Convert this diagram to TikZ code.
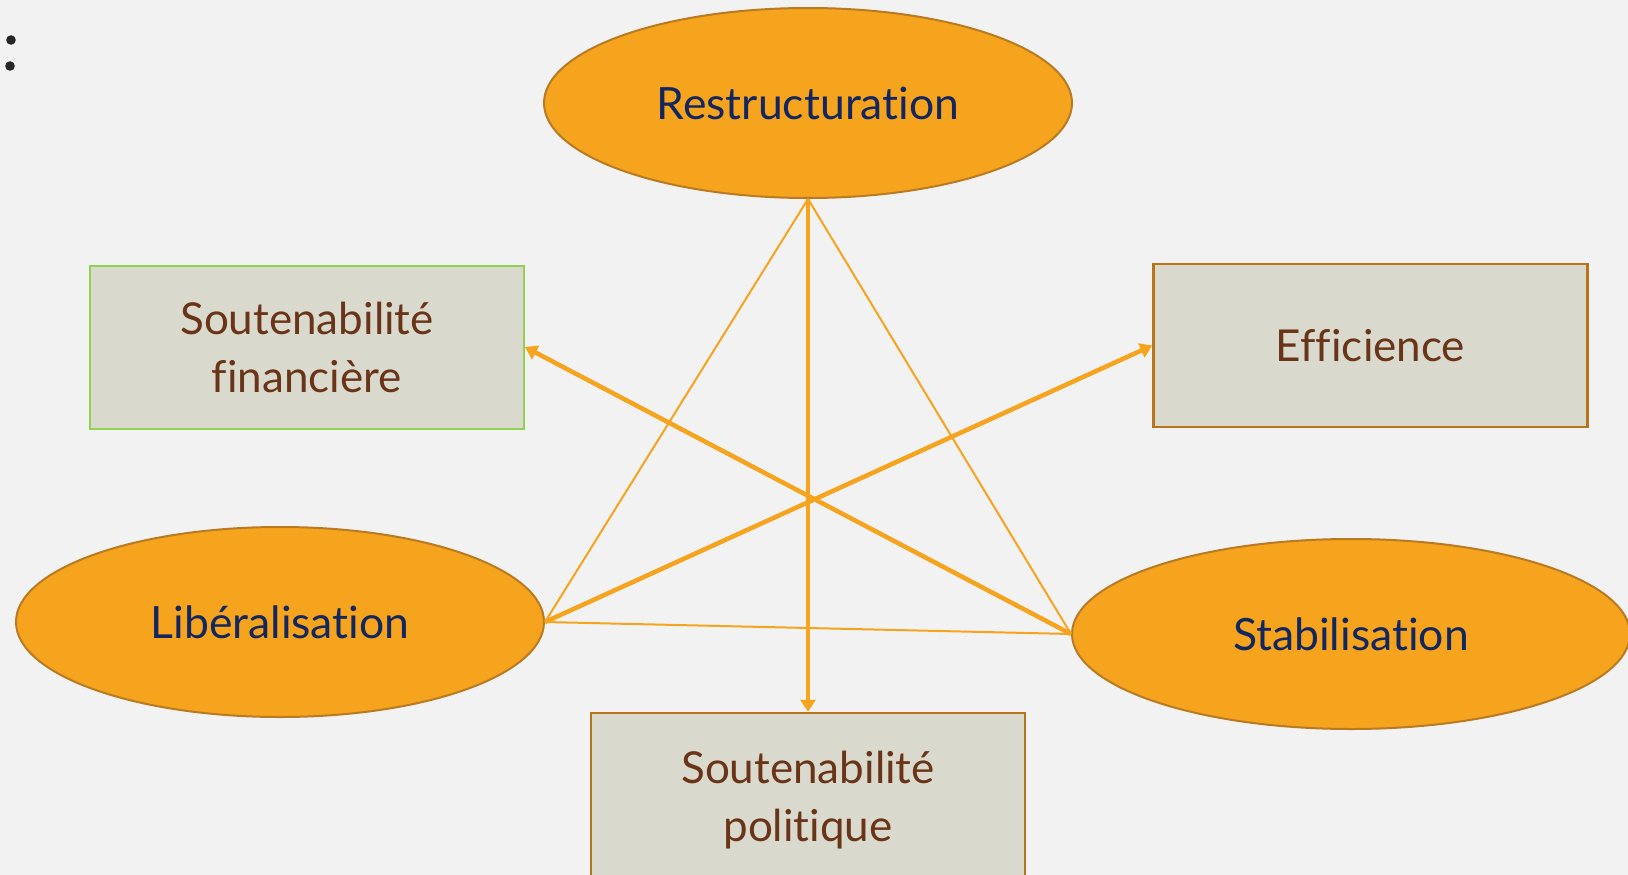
\documentclass[tikz,border=0pt]{standalone}
\usepackage{fontspec}
\setmainfont{Lato}[Ligatures={NoCommon}]
\usetikzlibrary{shapes.geometric,arrows.meta}
\definecolor{bg}{HTML}{F2F2F2}
\definecolor{orng}{HTML}{F6A31E}
\definecolor{orngdark}{HTML}{B97A21}
\definecolor{boxfill}{HTML}{D9DACD}
\definecolor{boxborder}{HTML}{B8741A}
\definecolor{greenb}{HTML}{92D050}
\definecolor{navy}{HTML}{12275F}
\definecolor{brwn}{HTML}{6A3418}
\tikzset{
  oval/.style={ellipse, fill=orng, draw=orngdark, line width=2pt, inner sep=0pt,
    minimum width=528pt, minimum height=190pt, text=navy,
    font=\fontsize{44.5}{50}\selectfont},
  rbox/.style={rectangle, fill=boxfill, draw=boxborder, line width=2.5pt, inner sep=0pt,
    minimum width=434pt, minimum height=163pt, text=brwn, align=center,
    font=\fontsize{44}{58}\selectfont},
  thin/.style={draw=orng, line width=2pt},
  thick/.style={draw=orng, line width=4.5pt, -{Triangle[length=12pt,width=15pt]}},
}
\begin{document}
\begin{tikzpicture}[x=1pt,y=-1pt]
\fill[bg] (0,0) rectangle (1628,875);
\useasboundingbox (0,0) rectangle (1628,875);
\fill[black!85] (11,40) circle (4.8);
\fill[black!85] (10,66) circle (4.8);
\node[rbox, draw=greenb, line width=2pt] (fin) at (307,347) {Soutenabilité\\financière};
\node[rbox] (eff) at (1370.5,345.5) {Efficience};
\node[rbox, minimum height=175pt] (pol) at (808,800.5) {Soutenabilité\\politique};
\node[oval] (res) at (808,103) {Restructuration};
\node[oval] (lib) at (280,622) {Libéralisation};
\node[oval, minimum width=558pt] (stab) at (1351,634) {Stabilisation};
\draw[thin] (res.south) -- (lib.east);
\draw[thin] (res.south) -- (stab.west);
\draw[thin] (lib.east) -- (stab.west);
\draw[thick] (res.south) -- (pol.north);
\draw[thick] (lib.east) -- (eff.west);
\draw[thick] (stab.west) -- (fin.east);
\end{tikzpicture}
\end{document}
